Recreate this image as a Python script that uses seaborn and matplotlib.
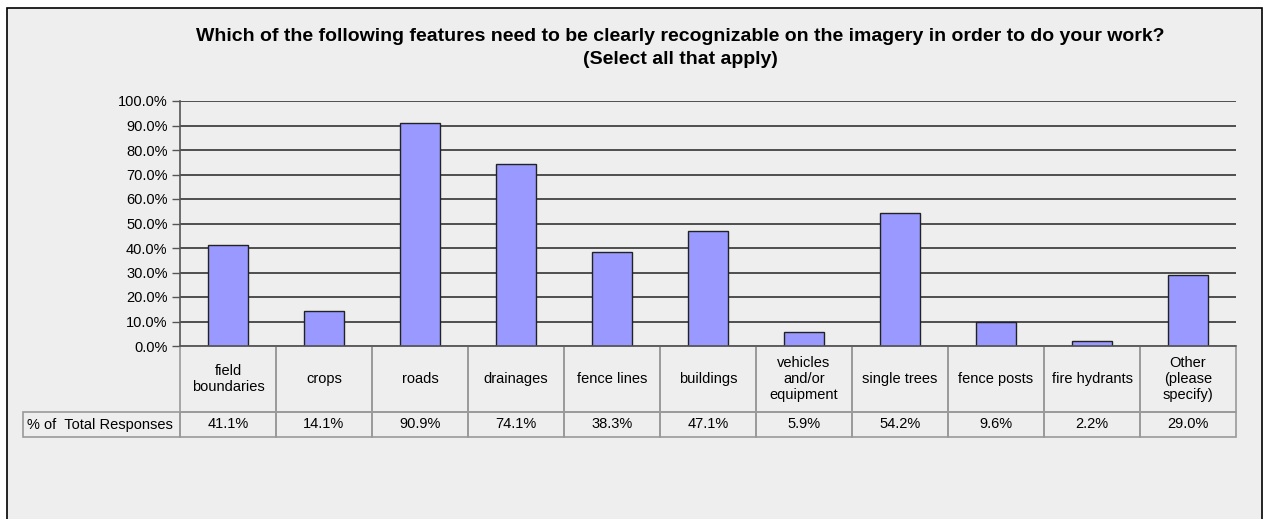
import matplotlib
matplotlib.use("Agg")
import matplotlib.pyplot as plt
import matplotlib.patches as mpatches
from matplotlib.transforms import blended_transform_factory
from matplotlib.ticker import MultipleLocator, FuncFormatter
import seaborn as sns
import pandas as pd

# Data
categories = ["field\nboundaries", "crops", "roads", "drainages", "fence lines",
              "buildings", "vehicles\nand/or\nequipment", "single trees",
              "fence posts", "fire hydrants", "Other\n(please\nspecify)"]
percent = [41.1, 14.1, 90.9, 74.1, 38.3, 47.1, 5.9, 54.2, 9.6, 2.2, 29.0]
row_label = "% of  Total Responses"
title = ("Which of the following features need to be clearly recognizable on the imagery in order to do your work?\n"
         "(Select all that apply)")

df = pd.DataFrame({"feature": categories, "share": [p / 100 for p in percent]})

sns.set_style("white")
plt.rcParams["font.family"] = ["Liberation Sans", "DejaVu Sans"]
plt.rcParams["text.color"] = "black"
plt.rcParams["ytick.labelcolor"] = "black"

W, H = 1264, 519
fig = plt.figure(figsize=(W / 100, H / 100), dpi=100, facecolor="white")

# chart area frame
frame = mpatches.Rectangle((7 / W, -0.01), (1255 / W), 1.01 - 8 / H, transform=fig.transFigure,
                           facecolor="#eeeeee", edgecolor="black", linewidth=1.2, zorder=-10)
fig.patches.append(frame)

left, right, top, bottom = 180, 1236, 101, 346
ax = fig.add_axes([left / W, 1 - bottom / H, (right - left) / W, (bottom - top) / H])
ax.set_facecolor("none")

sns.barplot(data=df, x="feature", y="share", color="#9999ff", edgecolor="#222222",
            linewidth=1, width=0.41, saturation=1, ax=ax, zorder=3)

ax.set_ylim(0, 1)
ax.set_xlim(-0.5, len(categories) - 0.5)
ax.yaxis.set_major_locator(MultipleLocator(0.1))
ax.yaxis.set_major_formatter(FuncFormatter(lambda v, _: f"{v * 100:.1f}%"))
ax.yaxis.grid(True, color="#333333", linewidth=1.2, zorder=0)
ax.set_axisbelow(True)
ax.tick_params(axis="y", length=6, width=1, color="#555555", labelsize=10.5, pad=3, left=True)
ax.set_xticks([])
ax.set_xlabel("")
ax.set_ylabel("")
for side in ["top", "right", "bottom"]:
    ax.spines[side].set_visible(False)
ax.spines["left"].set_color("#555555")
ax.spines["left"].set_linewidth(1.2)

# data table underneath: x in category units, y in axes fraction
trans = blended_transform_factory(ax.transData, ax.transAxes)
ph = bottom - top
y_head_top = 0
y_head_bot = -(412 - bottom) / ph
y_val_bot = -(437 - bottom) / ph
col_w = (right - left) / len(categories)
label_x0 = -0.5 - (left - 23) / col_w
cell_kw = dict(transform=trans, facecolor="none", edgecolor="#999999", linewidth=1.2, clip_on=False)
for i, (name, p) in enumerate(zip(categories, percent)):
    ax.add_patch(mpatches.Rectangle((i - 0.5, y_head_bot), 1, y_head_top - y_head_bot, **cell_kw))
    ax.add_patch(mpatches.Rectangle((i - 0.5, y_val_bot), 1, y_head_bot - y_val_bot, **cell_kw))
    ax.text(i, (y_head_top + y_head_bot) / 2, name, transform=trans, ha="center", va="center",
            fontsize=10.5, linespacing=1.15)
    ax.text(i, (y_head_bot + y_val_bot) / 2, f"{p:.1f}%", transform=trans, ha="center",
            va="center", fontsize=10.5)
ax.add_patch(mpatches.Rectangle((label_x0, y_val_bot), -0.5 - label_x0, y_head_bot - y_val_bot, **cell_kw))
ax.text(label_x0 + 0.04, (y_head_bot + y_val_bot) / 2, row_label, transform=trans, ha="left",
        va="center", fontsize=10.5)
ax.plot([-0.5, len(categories) - 0.5], [0, 0], transform=trans, color="#555555", lw=1.2,
        clip_on=False, zorder=4)

fig.text(680 / W, 1 - 28 / H, title, ha="center", va="top", fontsize=14,
         fontweight="bold", linespacing=1.45)

fig.savefig("out.png", dpi=100, facecolor="white")
